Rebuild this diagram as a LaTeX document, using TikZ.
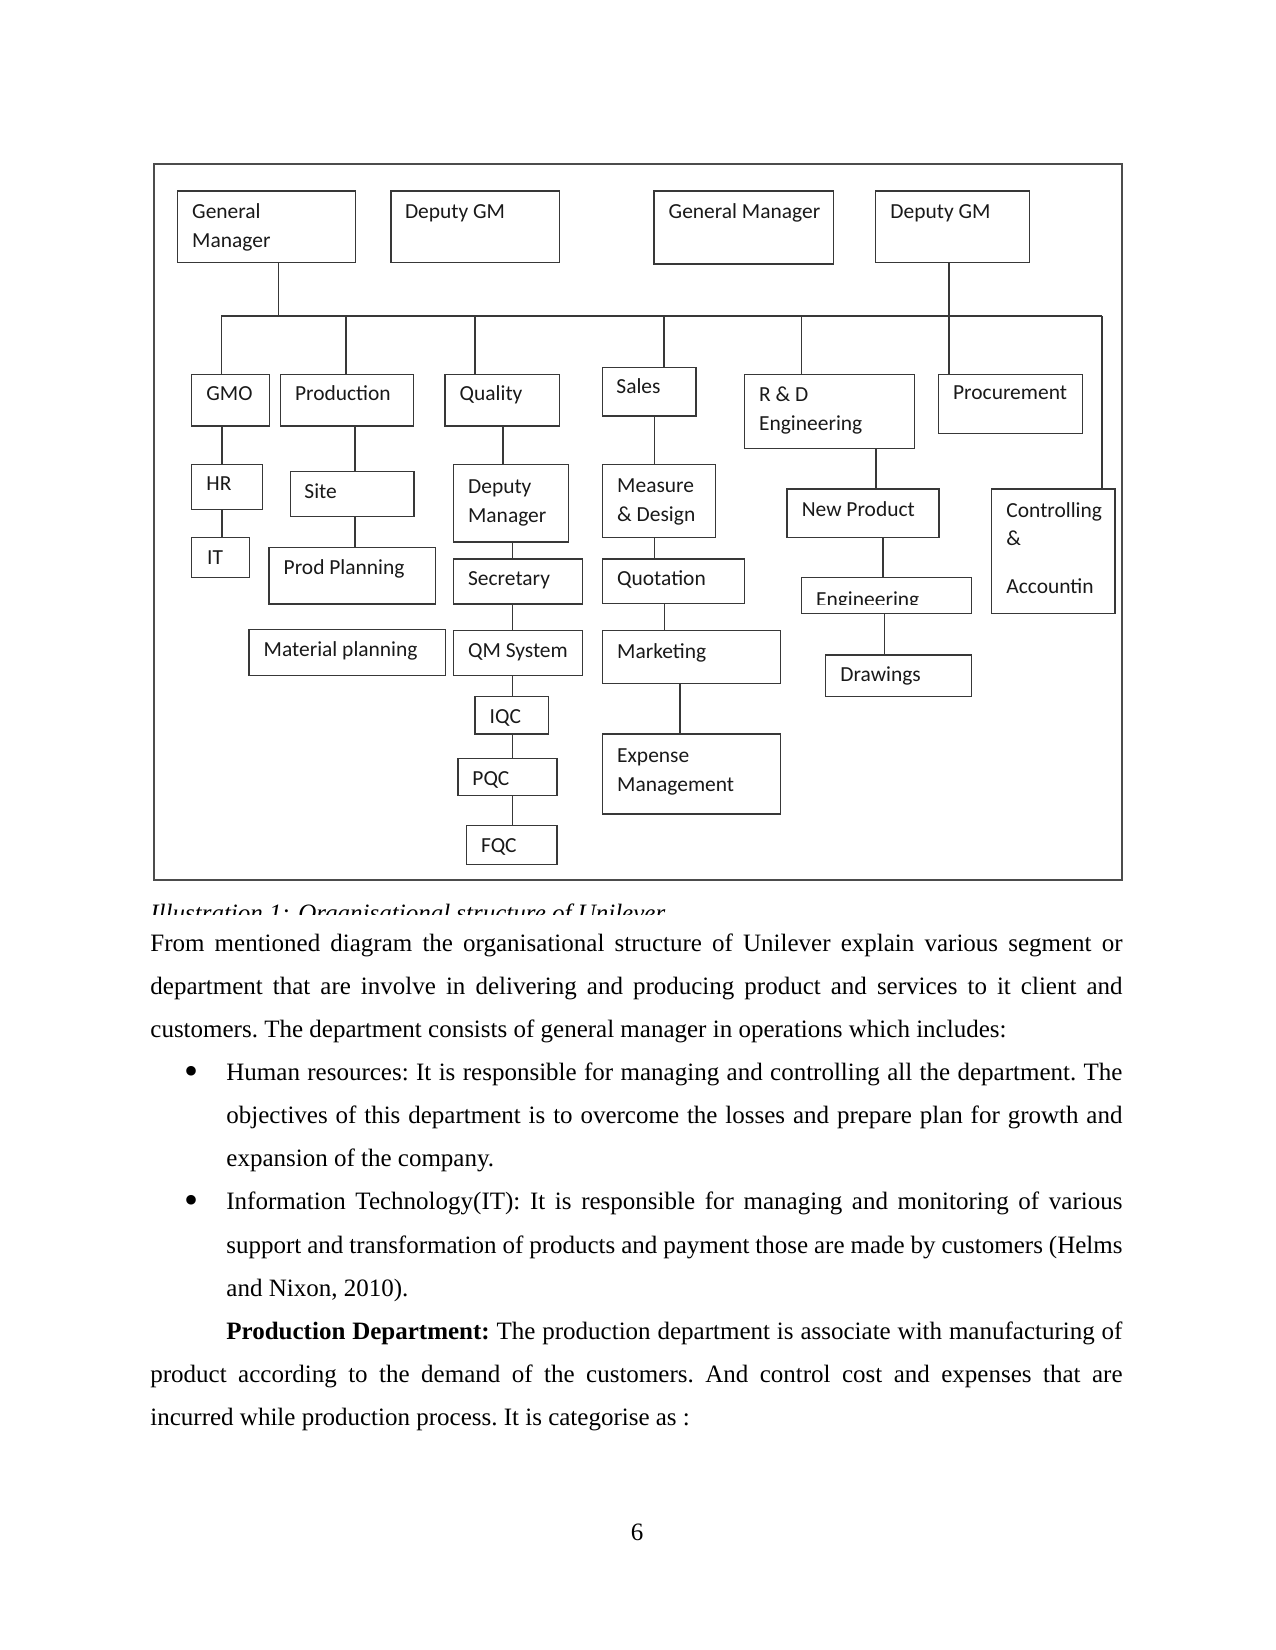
\documentclass[tikz,border=0pt]{standalone}
\usepackage{fontspec}
\setmainfont{Liberation Serif}
\newfontfamily\calib{Carlito}
\usetikzlibrary{fit,calc}

\tikzset{
  unit/.style={draw=black!78, line width=0.6pt, inner sep=0pt},
  lbl/.style={anchor=base west, inner sep=0pt, text=black!90,
    font=\calib\fontsize{10.3}{13.9}\selectfont},
  link/.style={draw=black!78, line width=0.6pt},
  body/.style={anchor=base west, inner sep=0pt, font=\fontsize{12}{14.4}\selectfont\frenchspacing}
}

% box of the chart: name, corners, text position, text
\newcommand{\dept}[8]{%
  \node[unit, fit={(#2,#3) (#4,#5)}] (#1) {};
  \node[lbl] (#1-t) at (#6,#7) {#8};
}
\newcommand{\twol}[2]{\vtop{\hbox{#1}\hbox{#2}}}
\newcommand{\jfull}[1]{\hbox to 466.6pt{#1}}
\newcommand{\jind}[1]{\hbox to 430.1pt{#1}}

\begin{document}
\begin{tikzpicture}[x=0.48pt,y=-0.48pt]
\useasboundingbox (0,0) rectangle (1275,1650);
% frame of the chart
\draw[black!70, line width=0.75pt] (154,164) rectangle (1122,880);

% top row
\dept{gm1}{177.5}{191}{355.4}{262.7}{191.8}{219}{\twol{General}{Manager}}
\dept{dgm1}{391}{191}{559.6}{262.7}{404.6}{219}{Deputy GM}
\dept{gm2}{654}{191}{833.3}{264}{668.3}{219}{General Manager}
\dept{dgm2}{875.7}{191}{1029.3}{262.7}{890}{219}{Deputy GM}

% departments
\dept{gmo}{191.8}{374.3}{269.3}{426}{206}{400.7}{GMO}
\dept{prod}{280.7}{374.3}{413.6}{426}{294.6}{400.7}{Production}
\dept{qual}{445}{374.3}{559.6}{426}{459.3}{400.7}{Quality}
\dept{sales}{602.5}{367.3}{696}{416}{616}{393.3}{Sales}
\dept{rd}{744.3}{374.3}{914.7}{448.7}{758.7}{401.7}{\twol{R \& D}{Engineering}}
\dept{proc}{938.7}{374.3}{1082.3}{433.3}{952.7}{400}{Procurement}

% GMO
\dept{hr}{191.7}{464.3}{262.3}{509.3}{206}{491}{HR}
\dept{it}{191.7}{537.7}{249.3}{577.7}{206.7}{564}{IT}
% production
\dept{site}{290.7}{471.7}{414}{516.7}{304}{498.3}{Site}
\dept{pplan}{269}{547.7}{435.7}{604}{283.3}{574.3}{Prod Planning}
\dept{mplan}{249}{629.3}{445.3}{675.7}{263.3}{656.7}{Material planning}
% quality
\dept{dman}{453.7}{464.3}{568.3}{542}{467.7}{493.3}{\twol{Deputy}{Manager}}
\dept{secr}{453.7}{559}{582.7}{604}{467.7}{585.7}{Secretary}
\dept{qms}{453.7}{630.7}{582.7}{675.3}{467.7}{657.7}{QM System}
\dept{iqc}{475}{696.7}{548.3}{734}{489.3}{723.3}{IQC}
\dept{pqc}{458}{758.3}{557}{795.7}{472}{785}{PQC}
\dept{fqc}{466.7}{825.7}{557}{864.3}{480.7}{852.3}{FQC}
% sales
\dept{mdes}{602.5}{464.3}{715.7}{537.7}{616.8}{492.7}{\twol{Measure}{\& Design}}
\dept{quot}{602.5}{559}{744.3}{603.7}{616.8}{585.7}{Quotation}
\dept{mkt}{602.5}{630.7}{780.4}{683.7}{616.8}{658.3}{Marketing}
\dept{expm}{602.5}{734}{780.4}{814}{616.8}{762.7}{\twol{Expense}{Management}}
% R & D
\dept{newp}{787.1}{489}{939}{537.7}{801.4}{516}{New Product}
\node[unit, fit={(801.4,577.7) (971.8,613.7)}] (engg) {};
\begin{scope}
  \clip (801.4,577.7) rectangle (971.8,604.5);
  \node[lbl] (engg-t) at (815.7,606.5) {Engineering};
\end{scope}
\dept{drw}{825.7}{655}{971.8}{696.7}{840}{681.7}{Drawings}
\dept{ctrl}{991.8}{489}{1115}{613.7}{1006}{517}{\vtop{\hbox{Controlling}\hbox{\&}\vskip9pt\hbox{Accountin}}}

% connectors
\coordinate (busL) at (221.4,316);
\coordinate (busR) at (1102,316);
\draw[link] (busL) -- (busR);
\draw[link] (278.6,0 |- gm1.south) -- (278.6,0 |- busL);
\draw[link] (949,0 |- dgm2.south) -- (949,0 |- proc.north);
\foreach \x/\n in {221.4/gmo,346/prod,475/qual,664/sales,801.7/rd,1102/ctrl}
  \draw[link] (\x,0 |- busL) -- (\x,0 |- \n.north);
\foreach \x/\a/\b in {222/gmo/hr,222/hr/it,355/prod/site,355/site/pplan,
    503/qual/dman,512.7/dman/secr,512.7/secr/qms,512.7/qms/iqc,512.7/iqc/pqc,
    512.7/pqc/fqc,654.3/sales/mdes,654.3/mdes/quot,664.3/quot/mkt,680/mkt/expm,
    876/rd/newp,883/newp/engg,884.6/engg/drw}
  \draw[link] (\x,0 |- \a.south) -- (\x,0 |- \b.north);

% caption, cut off
\begin{scope}
  \clip (140,890) rectangle (1130,914.5);
  \node[body, font=\itshape\fontsize{12}{14.4}\selectfont] (capt) at (150,921.5)
    {Illustration 1: Organisational structure of Unilever};
\end{scope}

% text of the page
\node[body] (l1) at (150,951) {\jfull{From mentioned diagram the organisational structure of Unilever explain various segment or}};
\node[body] (l2) at (150,994) {\jfull{department that are involve in delivering and producing product and services to it client and}};
\node[body] (l3) at (150,1037) {customers. The department consists of general manager in operations which includes:};
\node[body, anchor=center] (b1) at (191.5,1075) {\scalebox{1.6}{\textbullet}};
\node[body] (l4) at (226,1080) {\jind{Human resources: It is responsible for managing and controlling all the department. The}};
\node[body] (l5) at (226,1123) {\jind{objectives of this department is to overcome the losses and prepare plan for growth and}};
\node[body] (l6) at (226,1166) {expansion of the company.};
\node[body, anchor=center] (b2) at (191.5,1204) {\scalebox{1.6}{\textbullet}};
\node[body] (l7) at (226,1209) {\jind{Information Technology(IT): It is responsible for managing and monitoring of various}};
\node[body] (l8) at (226,1253) {\jind{support and transformation of products and payment those are made by customers (Helms}};
\node[body] (l9) at (226,1296) {and Nixon, 2010).};
\node[body] (l10) at (226,1339) {\jind{\textbf{Production Department:} The production department is associate with manufacturing of}};
\node[body] (l11) at (150,1382) {\jfull{product according to the demand of the customers. And control cost and expenses that are}};
\node[body] (l12) at (150,1425) {incurred while production process. It is categorise as :};
\node[body, anchor=base] (pnum) at (637,1540) {6};
\end{tikzpicture}
\end{document}
